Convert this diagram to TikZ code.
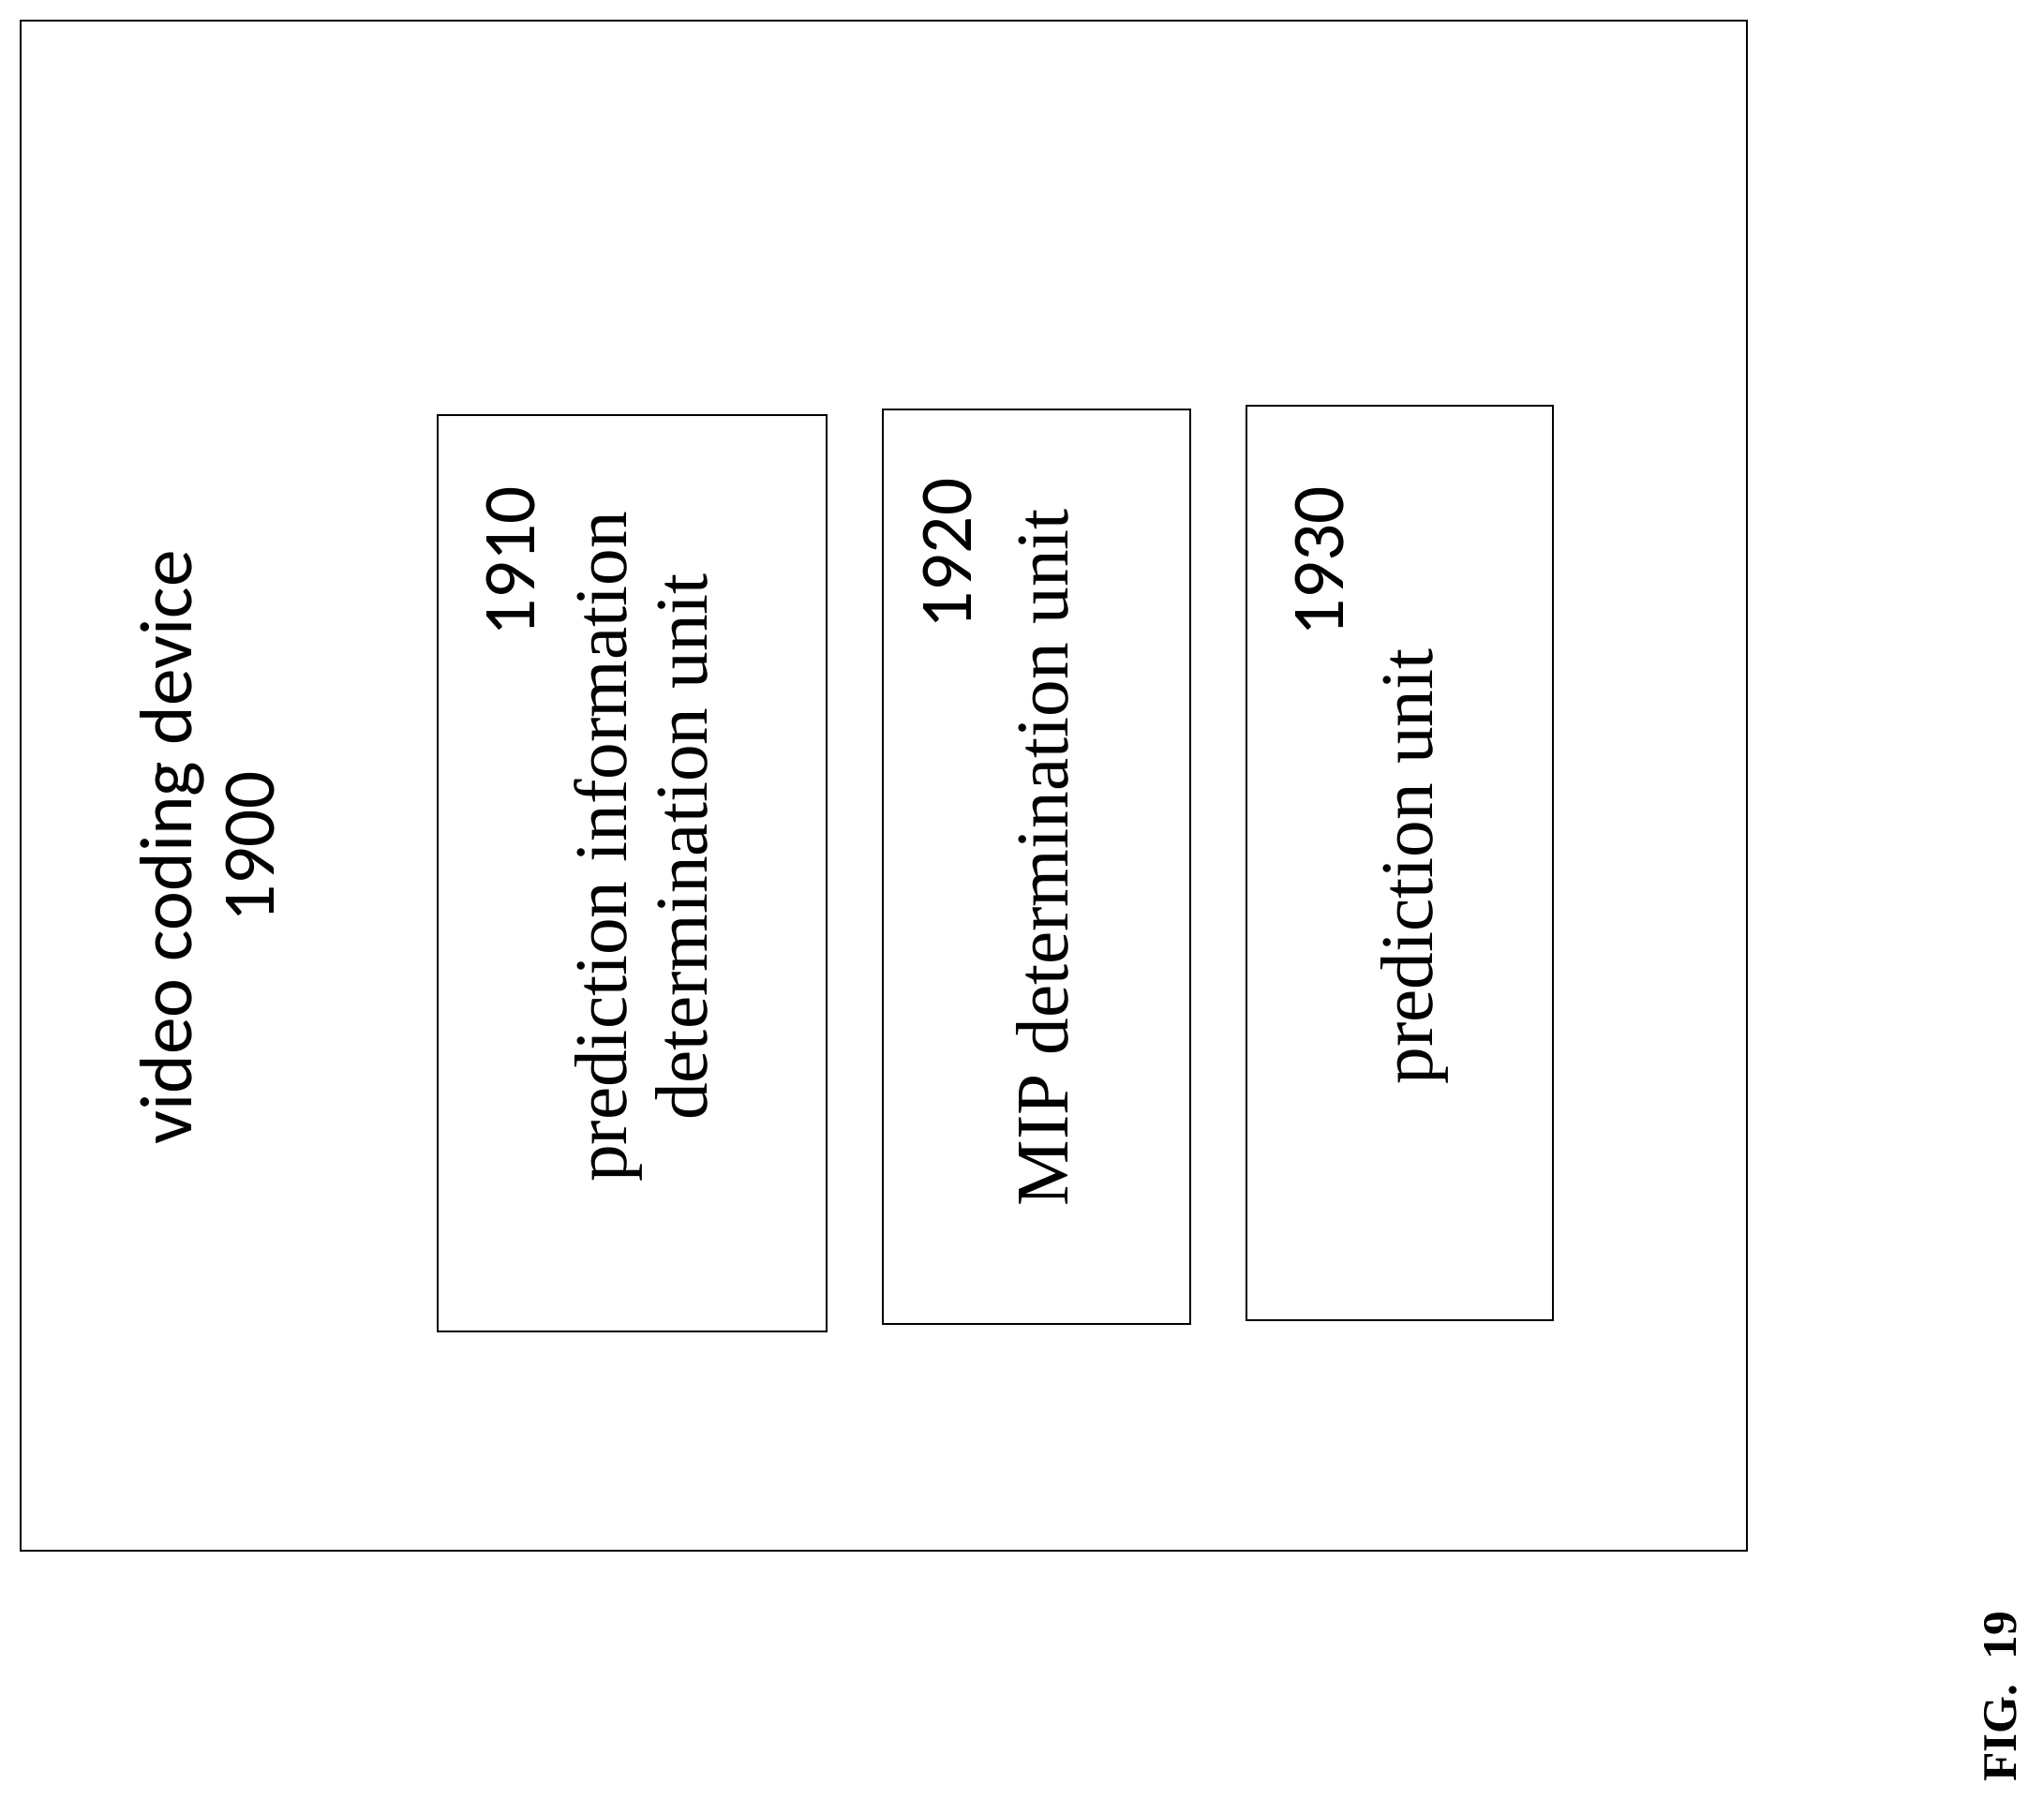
\documentclass[tikz,border=0pt]{standalone}
\usepackage{fontspec}
\setmainfont{Liberation Serif}
\newfontfamily\numfont{Carlito}
\usetikzlibrary{positioning}
\tikzset{unitbox/.style={draw,line width=1.5pt,inner sep=0pt},
  vtext/.style={rotate=90,inner sep=0pt,font=\fontsize{57}{62}\selectfont,align=center},
  vnum/.style={rotate=90,inner sep=0pt,font=\numfont\fontsize{57}{62}\selectfont}}
\begin{document}
\begin{tikzpicture}[x=1pt,y=-1pt]
\useasboundingbox (0,0) rectangle (1568,1380);
\draw[line width=1.5pt] (16,16) rectangle (1340,1190);
\node[vnum] (devtext) at (132,650) {video coding device};
\node[vnum] (devnum) at (192,650) {1900};

\node[unitbox,minimum width=298,minimum height=703] (pidu) at (485,670) {};
\node[vnum,anchor=east] (pidunum) at (392,373) {1910};
\node[vtext] (pidutext) at (492,650) {prediction information\\determination unit};

\node[unitbox,minimum width=236,minimum height=702] (mipu) at (795,665) {};
\node[vnum,anchor=east] (mipunum) at (727,367) {1920};
\node[vtext] (miputext) at (800,658) {MIP determination unit};

\node[unitbox,minimum width=235,minimum height=702] (predu) at (1074,662) {};
\node[vnum,anchor=east] (predunum) at (1012,373) {1930};
\node[vtext] (predutext) at (1085,665) {prediction unit};

\node[rotate=90,font=\bfseries\fontsize{37}{44}\selectfont] (fig) at (1535,1302) {FIG.~~19};
\end{tikzpicture}
\end{document}
